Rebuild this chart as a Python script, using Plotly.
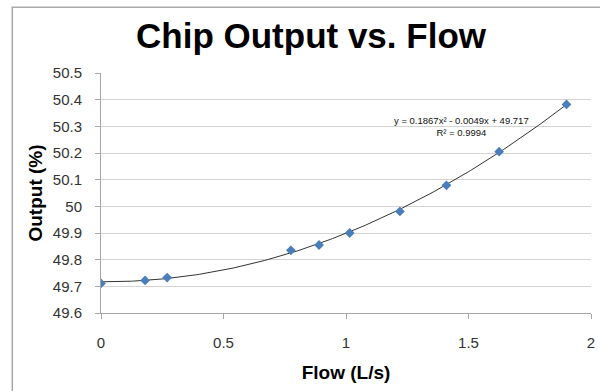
import numpy as np
import plotly.graph_objects as go

# Data
flow = [0.0, 0.18, 0.27, 0.775, 0.89, 1.015, 1.22, 1.41, 1.625, 1.90]
output = [49.711, 49.722, 49.733, 49.835, 49.855, 49.900, 49.981, 50.079, 50.205, 50.382]

# Displayed polynomial trendline coefficients (a x^2 + b x + c)
trend_coef = [0.1867, -0.0049, 49.717]
trend_label = ["y = 0.1867x² - 0.0049x + 49.717", "R² = 0.9994"]

x_ticks = [0, 0.5, 1, 1.5, 2]
x_tick_text = ["0", "0.5", "1", "1.5", "2"]
y_ticks = [49.6, 49.7, 49.8, 49.9, 50.0, 50.1, 50.2, 50.3, 50.4, 50.5]
y_tick_text = ["49.6", "49.7", "49.8", "49.9", "50", "50.1", "50.2", "50.3", "50.4", "50.5"]

tx = np.linspace(min(flow), max(flow), 200)
ty = np.polyval(trend_coef, tx)

fig = go.Figure()
fig.add_trace(go.Scatter(x=tx, y=ty, mode="lines",
                         line=dict(color="#333333", width=1), hoverinfo="skip",
                         showlegend=False))
fig.add_trace(go.Scatter(x=flow, y=output, mode="markers",
                         marker=dict(symbol="diamond", size=7.5, color="#4A7EBB",
                                     line=dict(width=0)),
                         showlegend=False))

W, H = 600, 391
ml, mr, mt, mb = 100.6, 4.5, 73.3, 77.7
pw, ph = W - ml - mr, H - mt - mb

def px_to_paper_x(px):
    return (px - ml) / pw

def px_to_paper_y(py):
    return (H - mb - py) / ph

FONT = "Liberation Sans, Arial, sans-serif"
tick_font = dict(family=FONT, size=15, color="#333333")

fig.update_layout(
    width=W, height=H,
    margin=dict(l=ml, r=mr, t=mt, b=mb, pad=0),
    paper_bgcolor="white", plot_bgcolor="white",
    title=dict(text="<b>Chip Output vs. Flow</b>",
               font=dict(family=FONT, size=35, color="black"),
               x=311 / W, xanchor="center", xref="container",
               y=1 - 36 / H, yanchor="middle", yref="container"),
    xaxis=dict(range=[0, 2], tickvals=x_ticks, ticktext=x_tick_text,
               showgrid=False, zeroline=False, showline=True, linecolor="#A6A6A6",
               linewidth=1, ticks="outside", ticklen=5, tickcolor="#A6A6A6",
               tickfont=tick_font, ticklabelstandoff=11,
               title=dict(text="<b>Flow (L/s)</b>",
                          font=dict(family=FONT, size=19, color="black"),
                          standoff=15)),
    yaxis=dict(range=[49.6, 50.5], tickvals=y_ticks, ticktext=y_tick_text,
               showgrid=True, gridcolor="#D4D4D4", gridwidth=1,
               zeroline=False, showline=True, linecolor="#A6A6A6",
               linewidth=1, ticks="outside", ticklen=5, tickcolor="#A6A6A6",
               tickfont=tick_font, ticklabelstandoff=10,
               title=dict(text="<b>Output (%)</b>",
                          font=dict(family=FONT, size=19, color="black"),
                          standoff=5)),
    font=dict(family=FONT),
)

# Chart area border (gray frame, partially cropped)
fig.add_shape(type="rect", xref="paper", yref="paper",
              x0=px_to_paper_x(11), x1=px_to_paper_x(640),
              y0=px_to_paper_y(440), y1=px_to_paper_y(7.5),
              line=dict(color="#A8A8A8", width=1.5), fillcolor="rgba(0,0,0,0)",
              layer="below")

# Trendline equation label
fig.add_annotation(xref="paper", yref="paper",
                   x=px_to_paper_x(465), y=px_to_paper_y(127),
                   xanchor="center", yanchor="middle",
                   text=trend_label[0] + "<br>" + trend_label[1],
                   showarrow=False, align="center",
                   font=dict(family=FONT, size=9.5, color="#111111"))

fig.write_html("out.html")
